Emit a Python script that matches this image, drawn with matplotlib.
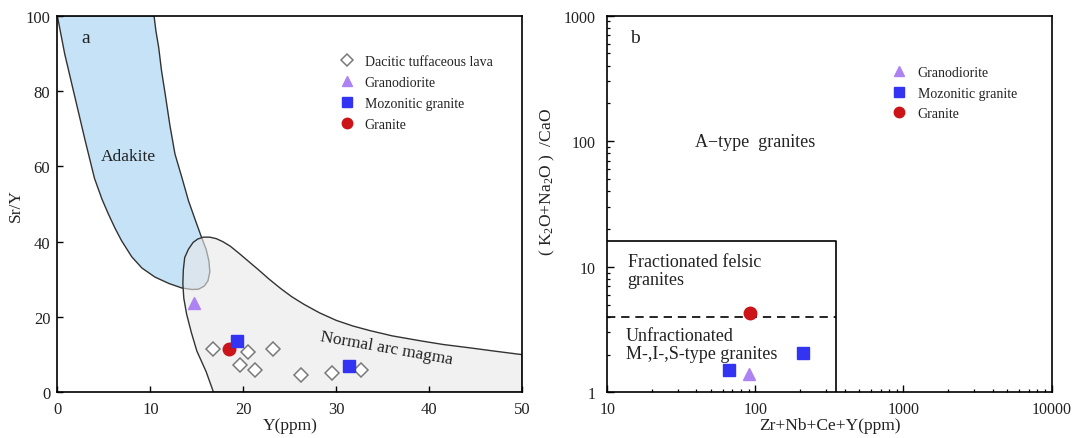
import matplotlib
matplotlib.use("Agg")
import matplotlib.pyplot as plt
from matplotlib.lines import Line2D

plt.rcParams["font.family"] = ["Liberation Serif", "DejaVu Serif"]
plt.rcParams["mathtext.fontset"] = "custom"
plt.rcParams["mathtext.rm"] = "Liberation Serif"
plt.rcParams["mathtext.it"] = "Liberation Serif:italic"

# ---- panel a: Sr/Y vs Y ----
adakite_x = [0.0, 0.8, 1.9, 3.0, 4.0, 4.8, 5.5, 6.2, 6.9, 8.0, 9.1, 10.5, 12.0, 13.4, 14.5, 15.2,
             15.8, 16.2, 16.4, 16.3, 16.0, 15.5, 14.8, 14.1, 13.4, 12.65, 12.1, 11.6,
             11.2, 10.9, 10.6, 10.4]
adakite_y = [100, 89.8, 78.3, 66.8, 56.8, 51.3, 47.3, 43.6, 40.3, 36.0, 33.0, 30.6, 28.9, 27.7, 27.3, 27.4,
             28.2, 29.6, 32.0, 34.9, 38.0, 41.2, 46.0, 50.9, 57.0, 63.3, 71.0, 79.2,
             85.5, 91.6, 96.0, 100]

arc_x = [16.8, 16.0, 15.0, 14.4, 13.9, 13.6, 13.5, 13.55, 13.7, 14.1, 14.6, 15.1, 15.7, 16.4,
         17.1, 17.8, 18.6, 19.5, 20.5, 21.6, 22.8, 24.0, 25.2, 26.5, 28.2, 30.0, 31.8, 33.6, 36.0,
         39.0, 41.5, 44.4, 47.0, 50.0, 50.0]
arc_y = [0.0, 5.5, 11.0, 16.0, 20.8, 25.0, 28.8, 32.5, 35.8, 38.0, 39.8, 40.7, 41.2, 41.2,
         40.8, 40.0, 38.8, 37.0, 34.9, 32.6, 30.0, 27.6, 25.4, 23.4, 21.1, 19.1, 17.6, 16.4, 15.0,
         13.7, 12.7, 11.8, 10.95, 10.0, 0.0]

dacite_y_ppm = [16.7, 20.5, 23.15, 19.6, 21.3, 26.2, 29.5, 32.7]
dacite_sr_y = [11.6, 10.6, 11.4, 7.2, 5.9, 4.5, 5.1, 5.9]
grano_a = ([14.7], [23.6])
monzo_a = ([19.3, 31.4], [13.5, 7.0])
granite_a = ([18.5], [11.4])

# ---- panel b: (K2O+Na2O)/CaO vs Zr+Nb+Ce+Y ----
grano_b = ([90.8], [1.40])
monzo_b = ([65.9, 209], [1.51, 2.05])
granite_b = ([91.8], [4.3])
box_x = [10, 350, 350]
box_y = [16, 16, 1]
dash_x = [10, 350]
dash_y = [4, 4]

c_tri = "#ad82f3"
c_sq = "#3333f2"
c_ci = "#cc1318"
c_dia = "#7a7a7a"
txt = "#222222"

fig = plt.figure(figsize=(10.73, 4.39), dpi=100)
ax1 = fig.add_axes([0.0534, 0.104, 0.4334, 0.858])
ax2 = fig.add_axes([0.566, 0.104, 0.414, 0.858])

ax1.fill(adakite_x, adakite_y, facecolor="#c6e2f7", edgecolor="#333333", lw=1.0, zorder=1)
ax1.fill(arc_x, arc_y, facecolor=(0.91, 0.91, 0.91, 0.6), edgecolor="#333333", lw=1.0, zorder=1.5)

ax1.plot(dacite_y_ppm, dacite_sr_y, ls="none", marker="D", ms=7.5, mfc="white", mec=c_dia, mew=1.1, zorder=3)
ax1.plot(*grano_a, ls="none", marker="^", ms=9, color=c_tri, zorder=3)
ax1.plot(*granite_a, ls="none", marker="o", ms=9, color=c_ci, zorder=3)
ax1.plot(*monzo_a, ls="none", marker="s", ms=9, color=c_sq, zorder=3)

ax1.set_xlim(0, 50)
ax1.set_ylim(0, 100)
ax1.set_xticks([0, 10, 20, 30, 40, 50])
ax1.set_yticks([0, 20, 40, 60, 80, 100])
ax1.set_xlabel("Y(ppm)", fontsize=12.5, color=txt, labelpad=0)
ax1.set_ylabel("Sr/Y", fontsize=12.5, color=txt, labelpad=1)
ax1.text(3.0, 94.3, "a", fontsize=14, color=txt, ha="center", va="center")
ax1.text(7.6, 62.8, "Adakite", fontsize=12.5, color=txt, ha="center", va="center")
ax1.text(35.4, 11.9, "Normal arc magma", fontsize=12.5, color=txt, ha="center", va="center",
         rotation=-10, rotation_mode="anchor")

h1 = [Line2D([], [], ls="none", marker="D", ms=6.5, mfc="white", mec=c_dia, mew=1.1),
      Line2D([], [], ls="none", marker="^", ms=7, color=c_tri),
      Line2D([], [], ls="none", marker="s", ms=7, color=c_sq),
      Line2D([], [], ls="none", marker="o", ms=7.5, color=c_ci)]
ax1.legend(h1, ["Dacitic tuffaceous lava", "Granodiorite", "Mozonitic granite", "Granite"],
           loc="upper left", bbox_to_anchor=(0.607, 0.895), frameon=False, fontsize=10,
           borderpad=0, borderaxespad=0, handlelength=1.0, handletextpad=0.8,
           labelspacing=0.56, labelcolor=txt)

# panel b
ax2.set_xscale("log")
ax2.set_yscale("log")
ax2.plot(box_x, box_y, color="black", lw=1.2, zorder=2)
ax2.plot(dash_x, dash_y, color="black", lw=1.2, ls=(0, (5, 3.5)), zorder=2)
ax2.plot(*grano_b, ls="none", marker="^", ms=9, color=c_tri, zorder=3)
ax2.plot(*monzo_b, ls="none", marker="s", ms=9, color=c_sq, zorder=3)
ax2.plot(*granite_b, ls="none", marker="o", ms=9, color=c_ci, zorder=3)

ax2.set_xlim(10, 10000)
ax2.set_ylim(1, 1000)
ax2.set_xticks([10, 100, 1000, 10000], ["10", "100", "1000", "10000"])
ax2.set_yticks([1, 10, 100, 1000], ["1", "10", "100", "1000"])
ax2.set_xlabel("Zr+Nb+Ce+Y(ppm)", fontsize=12.5, color=txt, labelpad=0)
ax2.set_ylabel("( K$_2$O+Na$_2$O )  /CaO", fontsize=12.5, color=txt)
ax2.yaxis.set_label_coords(-0.113, 0.56)
ax2.text(15.3, 665, "b", fontsize=14, color=txt, ha="center", va="center")
ax2.text(39, 100, "A−type  granites", fontsize=13, color=txt, ha="left", va="center")
ax2.text(13.7, 9.3, "Fractionated felsic\ngranites", fontsize=13, color=txt, ha="left",
         va="center", linespacing=1.1)
ax2.text(13.4, 2.42, "Unfractionated\nM-,I-,S-type granites", fontsize=13, color=txt,
         ha="left", va="center", linespacing=1.1)

h2 = [Line2D([], [], ls="none", marker="^", ms=7, color=c_tri),
      Line2D([], [], ls="none", marker="s", ms=7, color=c_sq),
      Line2D([], [], ls="none", marker="o", ms=7.5, color=c_ci)]
ax2.legend(h2, ["Granodiorite", "Mozonitic granite", "Granite"],
           loc="upper left", bbox_to_anchor=(0.642, 0.867), frameon=False, fontsize=10,
           borderpad=0, borderaxespad=0, handlelength=1.0, handletextpad=0.8,
           labelspacing=0.56, labelcolor=txt)

for ax in (ax1, ax2):
    for s in ax.spines.values():
        s.set_linewidth(1.2)
        s.set_color("black")
    ax.tick_params(which="major", direction="in", length=4, width=1.0,
                   labelcolor=txt, top=False, right=False)
    ax.tick_params(which="minor", direction="in", length=2.5, width=0.9, top=False, right=False)
    ax.tick_params(axis="x", pad=6)
ax1.tick_params(labelsize=12)
ax1.tick_params(axis="y", pad=5)
ax2.tick_params(which="major", length=5, labelsize=11.5)
ax2.tick_params(axis="y", pad=8.5)
ax2.tick_params(axis="y", which="minor", labelleft=False)
ax2.tick_params(axis="x", which="minor", labelbottom=False)

fig.savefig("out.png", dpi=100)
